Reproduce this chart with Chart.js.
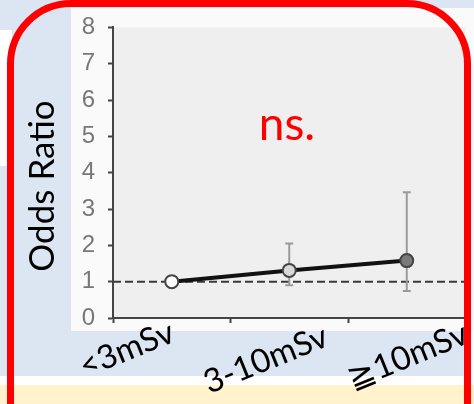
<!DOCTYPE html>
<html>
<head>
<meta charset="utf-8">
<script src="https://cdn.jsdelivr.net/npm/chart.js@4.4.1/dist/chart.umd.min.js"></script>
<style>
  html, body { margin: 0; padding: 0; }
  body { width: 474px; height: 404px; position: relative; overflow: hidden; background: #dce6f2; }
  .box { position: absolute; }
  #leftWhite { left: 0; top: 30px; width: 12px; height: 136px; background: #fff; }
  #rightWhite { left: 466px; top: 8px; width: 8px; height: 396px; background: #fff; }
  #chartImg { left: 71px; top: 8px; width: 403px; height: 323px; background: #fafafa; }
  #whiteStrip { left: 0; top: 376px; width: 474px; height: 9px; background: #fff; }
  #yellow { left: 0; top: 385px; width: 474px; height: 19px; background: #fff2cc; }
  #frame { left: 7px; top: 0; width: 450px; height: 500px; border: 7px solid #ff0000; border-radius: 64px; z-index: 5; pointer-events: none; }
  canvas { position: absolute; left: 0; top: 0; z-index: 2; }
</style>
</head>
<body>
<div class="box" id="leftWhite"></div>
<div class="box" id="rightWhite"></div>
<div class="box" id="chartImg"></div>
<div class="box" id="whiteStrip"></div>
<div class="box" id="yellow"></div>
<canvas id="oddsChart" width="474" height="404"></canvas>
<div class="box" id="frame"></div>

<script>
// chart values
const categories = ['<3mSv', '3-10mSv', '\u226710mSv'];
const oddsRatio = [1.0, 1.31, 1.58];
const ciLow = [null, 0.90, 0.74];
const ciHigh = [null, 2.05, 3.46];
const yTicks = [0, 1, 2, 3, 4, 5, 6, 7, 8];
const refValue = 1;

const pointFills = ['#ffffff', '#d9d9d9', '#7a7a7a'];

// plot background, reference line, error bars, slide texts
const extrasPlugin = {
    id: 'extras',
    beforeDraw(chart) {
        const { ctx, chartArea } = chart;
        ctx.save();
        ctx.fillStyle = '#efefef';
        ctx.fillRect(chartArea.left, chartArea.top, chartArea.right - chartArea.left, chartArea.bottom - chartArea.top);
        ctx.restore();
    },
    beforeDatasetsDraw(chart) {
        const { ctx, chartArea } = chart;
        const x = chart.scales.x;
        const y = chart.scales.y;

        // dashed line at OR = 1
        const yRef = y.getPixelForValue(refValue);
        ctx.save();
        ctx.strokeStyle = '#3a3a3a';
        ctx.lineWidth = 2;
        ctx.setLineDash([8, 4]);
        ctx.beginPath();
        ctx.moveTo(chartArea.left, yRef);
        ctx.lineTo(chartArea.right, yRef);
        ctx.stroke();
        ctx.restore();

        // error bars
        ctx.save();
        ctx.strokeStyle = '#9a9a9a';
        ctx.lineWidth = 2;
        categories.forEach((c, i) => {
            if (ciLow[i] == null) return;
            const px = x.getPixelForValue(i);
            const top = y.getPixelForValue(ciHigh[i]);
            const bot = y.getPixelForValue(ciLow[i]);
            ctx.beginPath();
            ctx.moveTo(px, top);
            ctx.lineTo(px, bot);
            ctx.moveTo(px - 4, top);
            ctx.lineTo(px + 4, top);
            ctx.moveTo(px - 4, bot);
            ctx.lineTo(px + 4, bot);
            ctx.stroke();
        });
        ctx.restore();
    },
    afterDraw(chart) {
        const { ctx, chartArea } = chart;
        const x = chart.scales.x;
        const opts = chart.options.plugins.extras;

        ctx.save();
        // y title
        ctx.fillStyle = '#000';
        ctx.font = '35px Lato';
        ctx.textAlign = 'center';
        ctx.textBaseline = 'alphabetic';
        ctx.translate(opts.titleX, opts.titleY);
        ctx.rotate(-Math.PI / 2);
        ctx.fillText('Odds Ratio', 0, 0);
        ctx.restore();

        // ns.
        ctx.save();
        ctx.fillStyle = '#ff0000';
        ctx.font = '46px Lato';
        ctx.textAlign = 'center';
        ctx.fillText('ns.', opts.nsX, opts.nsY);
        ctx.restore();

        // category labels, slanted
        ctx.save();
        ctx.fillStyle = '#000';
        ctx.font = '33px Lato, "DejaVu Sans"';
        ctx.textAlign = 'left';
        categories.forEach((c, i) => {
            const px = x.getPixelForValue(i) + opts.labelNudge[i][0];
            const py = chartArea.bottom + opts.labelNudge[i][1];
            ctx.save();
            ctx.translate(px, py);
            ctx.rotate(-22 * Math.PI / 180);
            ctx.fillText(c, 0, 0);
            ctx.restore();
        });
        ctx.restore();
    }
};

const ctx = document.getElementById('oddsChart').getContext('2d');
const oddsChart = new Chart(ctx, {
    type: 'line',
    data: {
        labels: categories,
        datasets: [{
            data: oddsRatio,
            borderColor: '#111',
            borderWidth: 4,
            pointRadius: 6.5,
            pointBorderWidth: 2,
            pointBorderColor: '#444',
            pointBackgroundColor: pointFills,
            tension: 0
        }]
    },
    plugins: [extrasPlugin],
    options: {
        responsive: false,
        animation: false,
        layout: { padding: { left: 0, top: 24, right: 1, bottom: 0 } },
        plugins: {
            legend: { display: false },
            tooltip: { enabled: false },
            extras: {
                titleX: 54,
                titleY: 186,
                nsX: 287,
                nsY: 140,
                labelNudge: [[-87, 60], [-80, 76], [-54, 72]]
            }
        },
        scales: {
            x: {
                type: 'category',
                offset: true,
                afterFit: (s) => { s.height = 86; },
                grid: {
                    offset: true,
                    drawOnChartArea: false,
                    drawTicks: true,
                    tickLength: 5,
                    tickWidth: 2,
                    tickColor: '#444'
                },
                border: { color: '#444', width: 2 },
                ticks: { display: false }
            },
            y: {
                min: 0,
                max: 8,
                afterFit: (s) => { s.width = 113; },
                afterBuildTicks: (s) => { s.ticks = yTicks.map(v => ({ value: v })); },
                grid: {
                    drawOnChartArea: false,
                    drawTicks: true,
                    tickLength: 5,
                    tickWidth: 2,
                    tickColor: '#444'
                },
                border: { color: '#444', width: 2 },
                ticks: {
                    color: '#777777',
                    padding: 13,
                    autoSkip: false,
                    font: { family: 'Liberation Sans', size: 24 }
                }
            }
        }
    }
});
</script>
</body>
</html>
